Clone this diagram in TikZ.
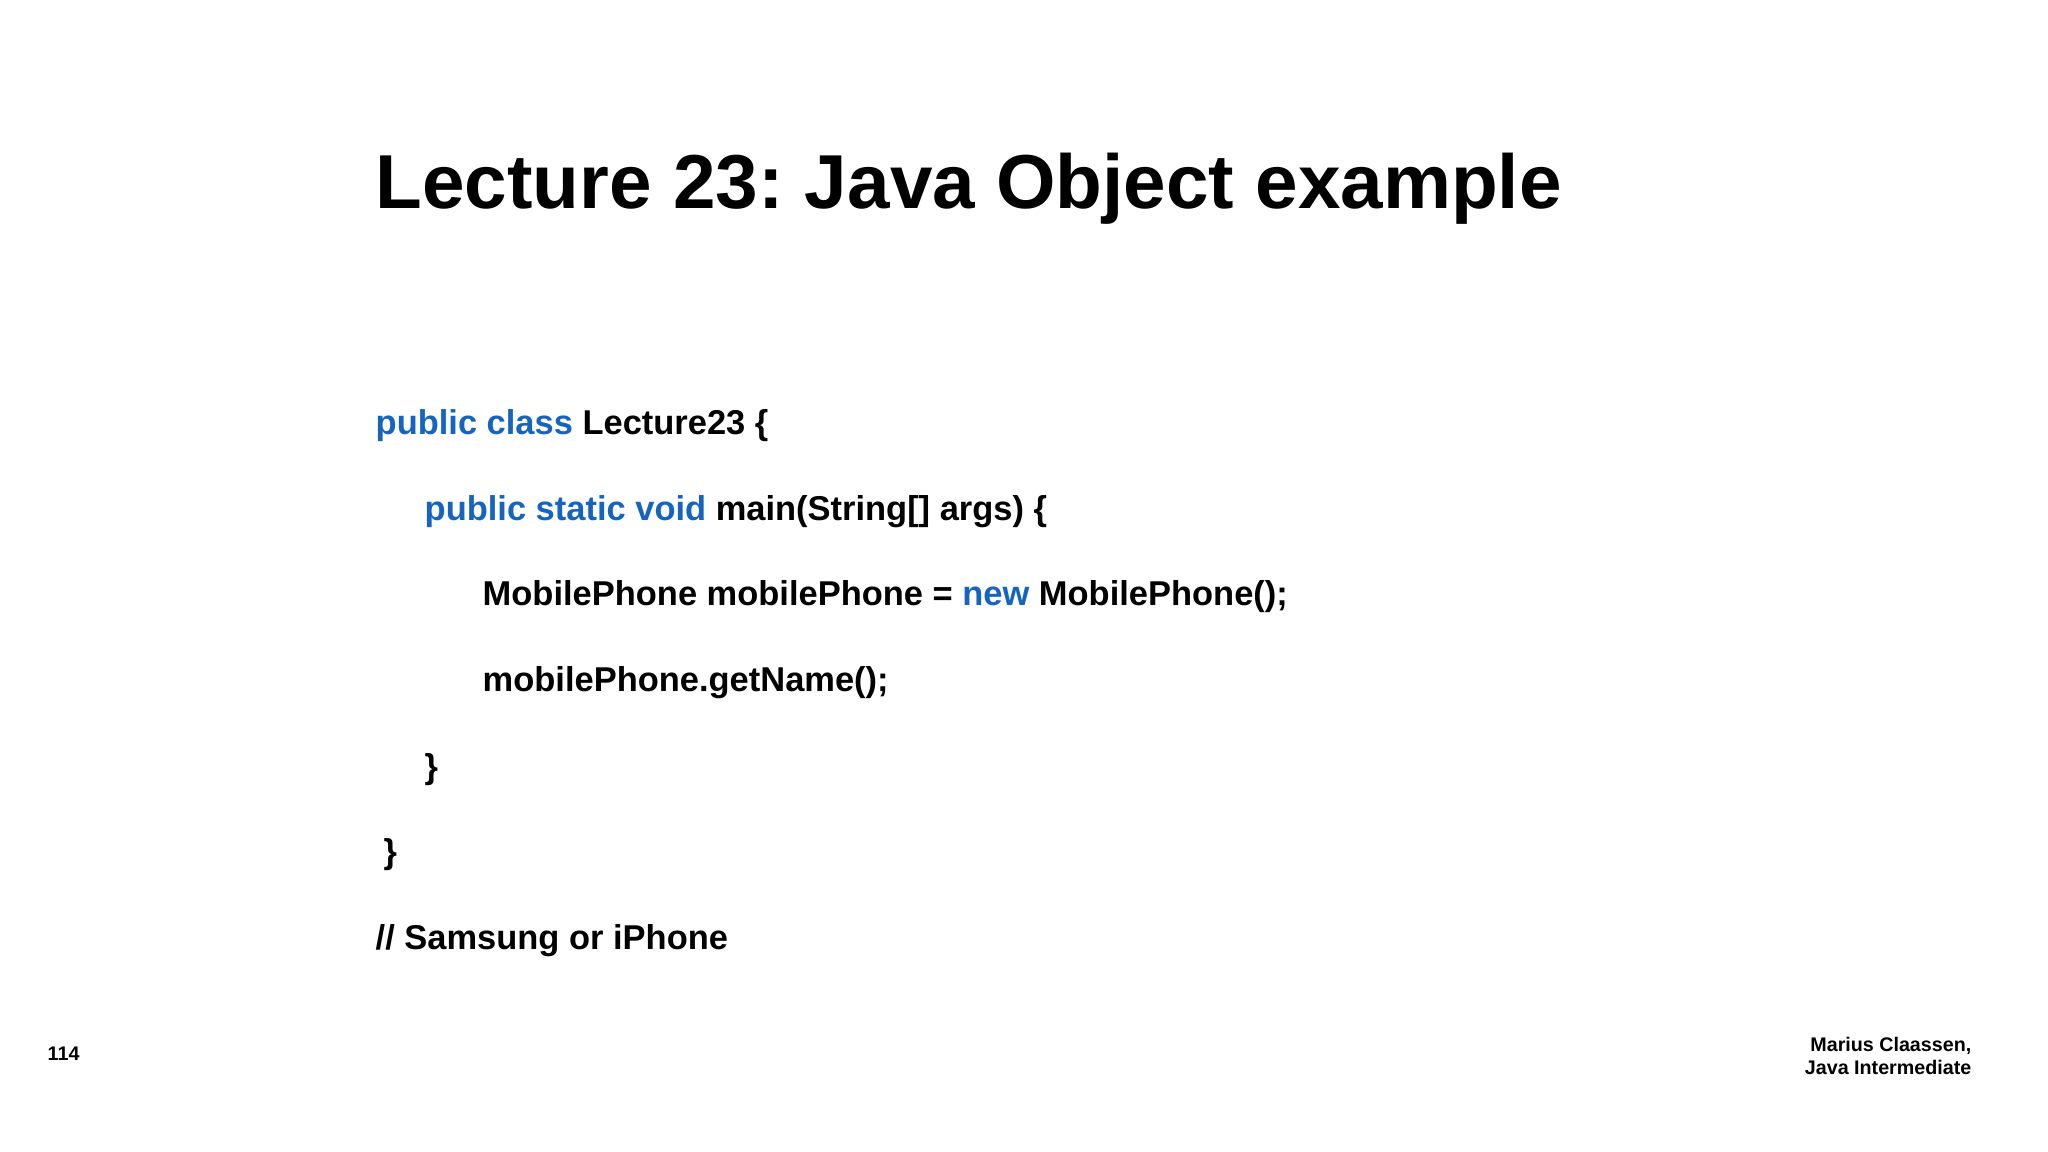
\documentclass[tikz,border=0pt]{standalone}
\usepackage{fontspec}
\setmainfont{Liberation Sans}
\definecolor{kw}{HTML}{1565C0}
\frenchspacing
\begin{document}
\begin{tikzpicture}[x=0.01cm,y=-0.01cm,
  txt/.style={anchor=base west,inner sep=0,font=\fontsize{9.8pt}{12pt}\selectfont\bfseries},
  foot/.style={inner sep=0,font=\fontsize{5.6pt}{6.5pt}\selectfont\bfseries}]
\useasboundingbox[fill=white] (0,0) rectangle (2048,1152);
\node[anchor=base west,inner sep=0,font=\fontsize{21.75pt}{26pt}\selectfont\bfseries] (title) at (375,209) {Lecture 23: Java Object example};
\node[txt] (l1) at (375,435) {\textcolor{kw}{public class} Lecture23 \{};
\node[txt] (l2) at (424,521) {\textcolor{kw}{public static void} main(String[] args) \{};
\node[txt] (l3) at (482,606) {MobilePhone mobilePhone = \textcolor{kw}{new} MobilePhone();};
\node[txt] (l4) at (482,692) {mobilePhone.getName();};
\node[txt] (l5) at (424,778) {\}};
\node[txt] (l6) at (383,863) {\}};
\node[txt] (l7) at (375,949) {// Samsung or iPhone};
\node[foot,anchor=base west] (num) at (47,1060) {114};
\node[foot,anchor=base east] (a1) at (1972,1051) {Marius Claassen,};
\node[foot,anchor=base east] (a2) at (1972,1074) {Java Intermediate};
\end{tikzpicture}
\end{document}
